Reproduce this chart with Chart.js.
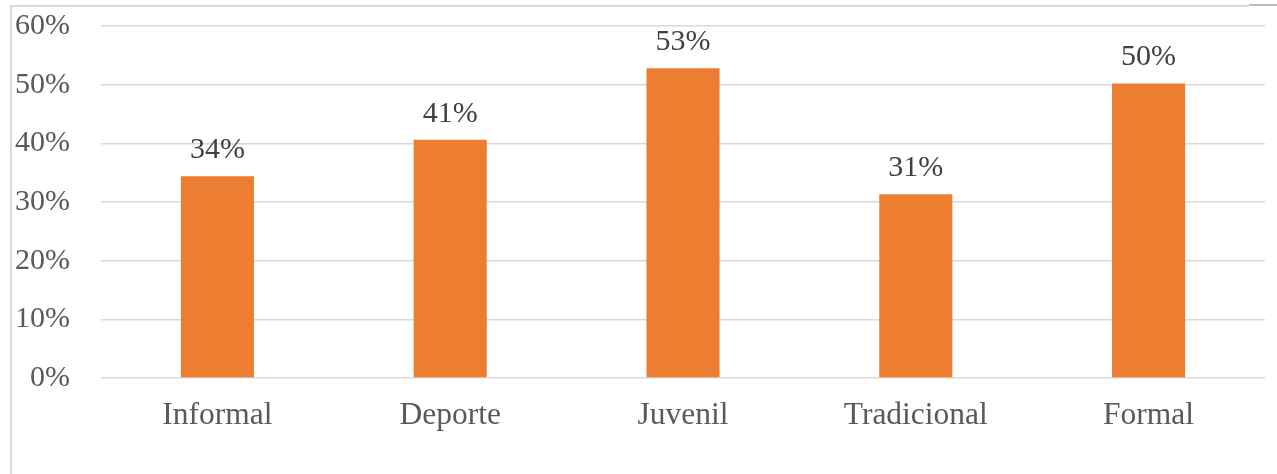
<!DOCTYPE html>
<html>
<head>
<meta charset="utf-8">
<script src="https://cdn.jsdelivr.net/npm/chart.js@4/dist/chart.umd.min.js"></script>
<style>
  html, body { margin: 0; padding: 0; background: #fff; }
  #wrap { width: 1277px; height: 474px; }
</style>
</head>
<body>
<div id="wrap"><canvas id="myChart" width="1277" height="474"></canvas></div>
<script>
const categories = ["Informal", "Deporte", "Juvenil", "Tradicional", "Formal"];
const shares = [34.4, 40.6, 52.8, 31.3, 50.2];
const yTicks = [0, 10, 20, 30, 40, 50, 60];

const serif = "'Liberation Serif', 'Times New Roman', serif";

// light frame around the chart box
const framePlugin = {
  id: "frame",
  beforeDraw(chart) {
    const ctx = chart.ctx;
    ctx.save();
    ctx.fillStyle = "#fff";
    ctx.fillRect(0, 0, chart.width, chart.height);
    ctx.strokeStyle = "#d9d9d9";
    ctx.lineWidth = 2;
    ctx.beginPath();
    ctx.moveTo(11, chart.height);
    ctx.lineTo(11, 6);
    ctx.lineTo(1249, 6);
    ctx.stroke();
    ctx.strokeStyle = "#bfbfbf";
    ctx.beginPath();
    ctx.moveTo(1249, 5);
    ctx.lineTo(chart.width, 5);
    ctx.stroke();
    ctx.restore();
  }
};

// percentage above each bar
const valueLabels = {
  id: "valueLabels",
  afterDatasetsDraw(chart) {
    const ctx = chart.ctx;
    const meta = chart.getDatasetMeta(0);
    ctx.save();
    ctx.font = "30px " + serif;
    ctx.fillStyle = "#404040";
    ctx.textAlign = "center";
    ctx.textBaseline = "alphabetic";
    meta.data.forEach((bar, i) => {
      ctx.fillText(shares[i].toFixed(0) + "%", bar.x, bar.y - 18);
    });
    ctx.restore();
  }
};

new Chart(document.getElementById("myChart").getContext("2d"), {
  type: "bar",
  data: {
    labels: categories,
    datasets: [{
      data: shares,
      backgroundColor: "#ED7D31",
      borderWidth: 0,
      barPercentage: 0.314,
      categoryPercentage: 1
    }]
  },
  options: {
    responsive: false,
    animation: false,
    layout: { padding: { top: 26, right: 12, left: 0, bottom: 0 } },
    plugins: {
      legend: { display: false },
      tooltip: { enabled: false }
    },
    scales: {
      x: {
        grid: { display: false, drawTicks: false },
        border: { display: false },
        ticks: {
          color: "#595959",
          font: { family: serif, size: 31.5 },
          padding: 19
        },
        afterFit(scale) { scale.height = 96; }
      },
      y: {
        min: 0,
        max: 60,
        afterBuildTicks(scale) {
          scale.ticks = yTicks.map(v => ({ value: v }));
        },
        grid: { color: "#d9d9d9", lineWidth: 1.5, drawTicks: false },
        border: { display: false },
        ticks: {
          color: "#595959",
          font: { family: serif, size: 30 },
          padding: 31,
          callback: v => v + "%"
        },
        afterFit(scale) {
          scale.width = 101;
          scale.paddingTop = 0;
          scale.paddingBottom = 0;
        }
      }
    }
  },
  plugins: [framePlugin, valueLabels]
});
</script>
</body>
</html>
